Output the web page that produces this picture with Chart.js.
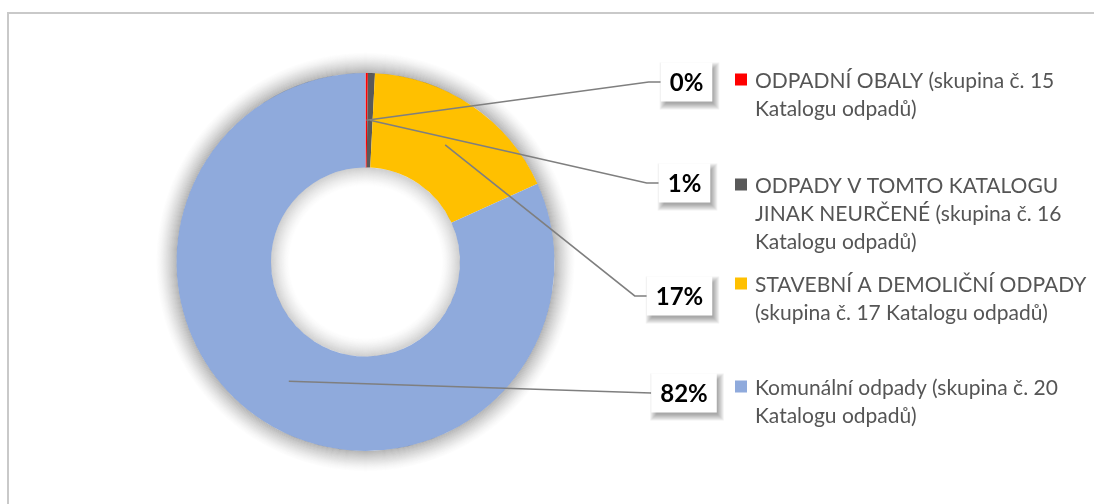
<!DOCTYPE html>
<html>
<head>
<meta charset="utf-8">
<script src="https://cdn.jsdelivr.net/npm/chart.js@4/dist/chart.umd.min.js"></script>
<style>
  html, body { margin: 0; padding: 0; background: #ffffff; }
  #wrap { position: relative; width: 1094px; height: 504px; overflow: hidden; }
  canvas { display: block; }
</style>
</head>
<body>
<div id="wrap"><canvas id="c" width="1094" height="504"></canvas></div>
<script>
// ---- data ----
const categories = [
  ['ODPADNÍ OBALY (skupina č. 15', 'Katalogu odpadů)'],
  ['ODPADY V TOMTO KATALOGU', 'JINAK NEURČENÉ (skupina č. 16', 'Katalogu odpadů)'],
  ['STAVEBNÍ A DEMOLIČNÍ ODPADY', '(skupina č. 17 Katalogu odpadů)'],
  ['Komunální odpady (skupina č. 20', 'Katalogu odpadů)']
];
const values = [0.2, 0.6, 17.4, 81.8];
const percentLabels = ['0%', '1%', '17%', '82%'];
const sliceColors = ['#FF0000', '#595959', '#FFC000', '#8FAADC'];

// ---- layout constants (not data) ----
const labelCenters = [
  { x: 686.5, y: 82 },
  { x: 684.5, y: 183 },
  { x: 679.5, y: 296 },
  { x: 684, y: 393 }
];
const legendBaselines = [88, 193, 292, 395];
const legendLineH = 28;
const legendSquareX = 735;
const legendTextX = 755;
const FONT = 'Lato, "Noto Sans", sans-serif';

function ringHalo(ctx, cx, cy, rEdge, width, a0, outward) {
  const steps = Math.round(width);
  for (let k = 0; k < steps; k++) {
    const t = (k + 0.5) / steps;
    const al = a0 * Math.pow(1 - t, 1.5);
    const r = outward ? rEdge + k : rEdge - k;
    const rr = outward ? r + 1 : r - 1;
    if (rr <= 0) break;
    ctx.fillStyle = 'rgba(0,0,0,' + al.toFixed(3) + ')';
    ctx.beginPath();
    ctx.arc(cx, cy, Math.max(r, rr), 0, Math.PI * 2, false);
    ctx.arc(cx, cy, Math.min(r, rr), 0, Math.PI * 2, true);
    ctx.closePath();
    ctx.fill();
  }
}

const decorPlugin = {
  id: 'decor',
  beforeDraw(chart) {
    const ctx = chart.ctx;
    ctx.save();
    ctx.fillStyle = '#ffffff';
    ctx.fillRect(0, 0, chart.width, chart.height);
    ctx.strokeStyle = '#c9c9c9';
    ctx.lineWidth = 2;
    ctx.strokeRect(8, 13, chart.width + 20, chart.height + 20);
    ctx.restore();
  },
  afterDatasetsDraw(chart) {
    const ctx = chart.ctx;
    const meta = chart.getDatasetMeta(0);
    ctx.save();
    const a = meta.data[0];
    if (a) {
      ringHalo(ctx, a.x, a.y, a.outerRadius, 22, 0.30, true);
      ringHalo(ctx, a.x, a.y, a.innerRadius, 20, 0.20, false);
    }
    ctx.font = 'bold 24px ' + FONT;
    ctx.textAlign = 'center';
    ctx.textBaseline = 'middle';
    const boxes = meta.data.map((arc, i) => {
      const c = labelCenters[i];
      const w = ctx.measureText(percentLabels[i]).width + 18;
      const h = 39;
      return { left: c.x - w / 2, top: c.y - h / 2, w, h, cx: c.x, cy: c.y };
    });
    // leader lines
    ctx.strokeStyle = '#7f7f7f';
    ctx.lineWidth = 1.6;
    meta.data.forEach((arc, i) => {
      const p = arc.getCenterPoint();
      const b = boxes[i];
      ctx.beginPath();
      ctx.moveTo(p.x, p.y);
      if (Math.abs(p.y - b.cy) > 15) {
        ctx.lineTo(b.left - 12, b.cy);
      }
      ctx.lineTo(b.left, b.cy);
      ctx.stroke();
    });
    // boxes with manual soft shadow
    boxes.forEach((b, i) => {
      for (let k = 6; k >= 0; k--) {
        ctx.fillStyle = 'rgba(0,0,0,0.055)';
        ctx.fillRect(b.left + 3 - k + 2, b.top + 4 - k + 2, b.w + 2 * k - 4, b.h + 2 * k - 4);
      }
      ctx.fillStyle = '#ffffff';
      ctx.fillRect(b.left, b.top, b.w, b.h);
      ctx.fillStyle = '#000000';
      ctx.fillText(percentLabels[i], b.cx, b.cy + 1);
    });
    // legend
    ctx.textAlign = 'left';
    ctx.textBaseline = 'alphabetic';
    ctx.font = '21px ' + FONT;
    categories.forEach((lines, i) => {
      const base = legendBaselines[i];
      ctx.fillStyle = sliceColors[i];
      ctx.fillRect(legendSquareX, base - 14.5, 12, 12);
      ctx.fillStyle = '#555555';
      lines.forEach((ln, j) => {
        ctx.fillText(ln, legendTextX, base + j * legendLineH);
      });
    });
    ctx.restore();
  }
};

new Chart(document.getElementById('c'), {
  type: 'doughnut',
  data: {
    labels: categories.map(l => l.join(' ')),
    datasets: [{
      data: values,
      backgroundColor: sliceColors,
      borderWidth: 0,
      hoverOffset: 0
    }]
  },
  options: {
    responsive: false,
    animation: false,
    cutout: '50%',
    layout: { padding: { left: 176.5, right: 539.5, top: 73, bottom: 53 } },
    plugins: {
      legend: { display: false },
      tooltip: { enabled: false },
      title: { display: false }
    },
    events: []
  },
  plugins: [decorPlugin]
});
</script>
</body>
</html>
